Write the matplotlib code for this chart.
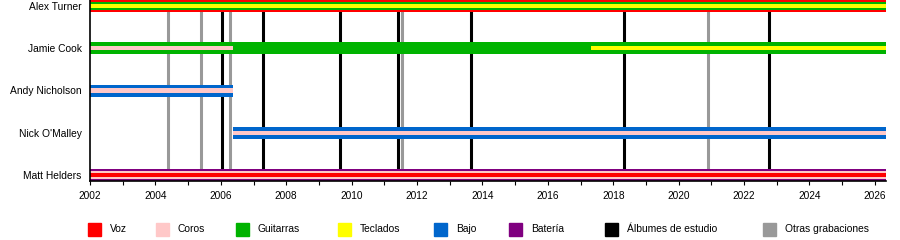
import matplotlib
matplotlib.use('Agg')
import matplotlib.pyplot as plt
from matplotlib.patches import Rectangle

plt.rcParams['font.family'] = ['Liberation Sans', 'DejaVu Sans']

# timeline data
start_year = 2002
end_year = 2026.34

members = ['Alex Turner', 'Jamie Cook', 'Andy Nicholson', "Nick O'Malley", 'Matt Helders']

# (role, start, end, layer) - layer 0 is the widest band
alex_spans = [('Voz', 2002, end_year, 0), ('Guitarras', 2002, end_year, 1), ('Teclados', 2002, end_year, 2)]
jamie_spans = [('Guitarras', 2002, end_year, 0), ('Coros', 2002, 2006.38, 1), ('Teclados', 2017.31, end_year, 1)]
andy_spans = [('Bajo', 2002, 2006.38, 0), ('Coros', 2002, 2006.38, 1)]
nick_spans = [('Bajo', 2006.36, end_year, 0), ('Coros', 2006.36, end_year, 1)]
matt_spans = [('Batería', 2002, end_year, 0), ('Coros', 2002, end_year, 1), ('Voz', 2002, end_year, 2)]
spans = [alex_spans, jamie_spans, andy_spans, nick_spans, matt_spans]

studio_albums = [2006.04, 2007.29, 2009.65, 2011.42, 2013.65, 2018.33, 2022.75]
other_recordings = [2004.37, 2005.38, 2006.27, 2011.54, 2020.90]

legend_labels = ['Voz', 'Coros', 'Guitarras', 'Teclados', 'Bajo', 'Batería',
                 'Álbumes de estudio', 'Otras grabaciones']

colors = {
    'Voz': '#ff0000',
    'Coros': '#ffc8c8',
    'Guitarras': '#00b300',
    'Teclados': '#ffff00',
    'Bajo': '#0066cc',
    'Batería': '#800080',
    'Álbumes de estudio': '#000000',
    'Otras grabaciones': '#999999',
}

# band heights in row units (one row = 42.25 px)
px = 1 / 42.25
heights3 = [12 * px, 7.5 * px, 4.5 * px]
heights2 = [12 * px, 4.3 * px]

fig = plt.figure(figsize=(9, 2.4), dpi=100)
ax = fig.add_axes([90 / 900, 1 - 181 / 240, 796 / 900, 181 / 240])

for i, member_spans in enumerate(spans):
    nlayers = max(s[3] for s in member_spans) + 1
    hs = heights3 if nlayers == 3 else heights2
    for role, s, e, layer in member_spans:
        ax.barh(i, e - s, left=s, height=hs[layer], color=colors[role],
                linewidth=0, zorder=3 + layer)

ax.vlines(studio_albums, 0, 4, color=colors['Álbumes de estudio'], linewidth=2.2, zorder=2)
ax.vlines(other_recordings, 0, 4, color=colors['Otras grabaciones'], linewidth=2.2, zorder=1)

ax.set_xlim(start_year, end_year)
ax.set_ylim(4 + 6 * px, -6 * px)
ax.set_yticks(range(len(members)))
ax.set_yticklabels(members, fontsize=7.4)
ax.tick_params(axis='y', length=0, pad=6)

ax.set_xticks(range(2002, 2027, 2))
ax.set_xticks(range(2002, 2027), minor=True)
ax.tick_params(axis='x', which='major', length=3, width=0.8, labelsize=7.3, pad=4)
ax.tick_params(axis='x', which='minor', length=3, width=0.8)

for side in ['top', 'right']:
    ax.spines[side].set_visible(False)
for side in ['left', 'bottom']:
    ax.spines[side].set_linewidth(1.2)
    ax.spines[side].set_zorder(10)

# legend drawn by hand
legend_x = [88, 156, 236, 338, 434, 509, 605, 763]
for lx, label in zip(legend_x, legend_labels):
    fig.patches.append(Rectangle((lx / 900, 1 - 236 / 240), 13 / 900, 13 / 240,
                                 transform=fig.transFigure, color=colors[label]))
    fig.text((lx + 22) / 900, 1 - 229.5 / 240, label, fontsize=7.4, va='center', ha='left')

fig.savefig('out.png', dpi=100)
